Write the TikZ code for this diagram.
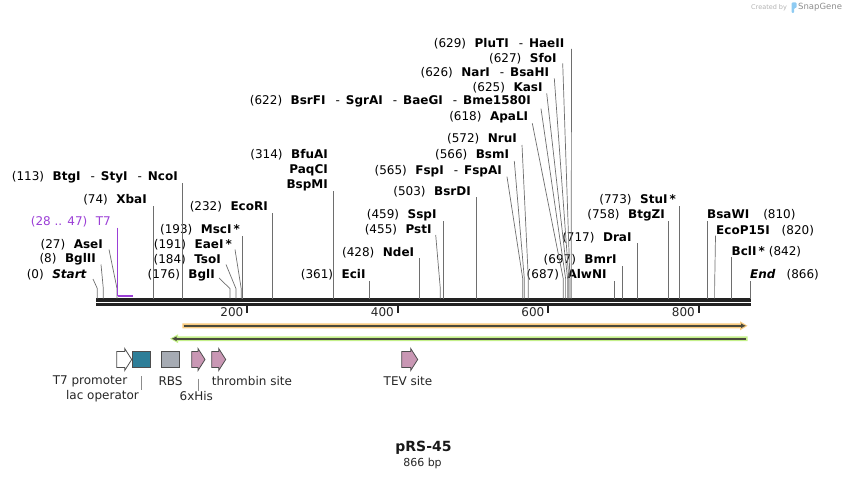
\documentclass[tikz,border=0pt]{standalone}
\usepackage{fontspec}
\setmainfont{DejaVu Sans}
\usepackage{tikz}
\usetikzlibrary{arrows.meta}
\definecolor{enzgray}{HTML}{6E6E6E}
\definecolor{barblack}{HTML}{222222}
\definecolor{t7purple}{HTML}{9B3FD6}
\definecolor{cdsorange}{HTML}{F9CB80}
\definecolor{cdsgreen}{HTML}{C4F08A}
\definecolor{cdsline}{HTML}{4A4A3C}
\definecolor{lacteal}{HTML}{2E7E98}
\definecolor{rbsgray}{HTML}{A6ABB3}
\definecolor{sitepink}{HTML}{C997B4}
\definecolor{outline}{HTML}{4D4D4D}
\definecolor{logoblue}{HTML}{8FCBF2}
\tikzstyle{enz}=[inner sep=0pt, font={\fontsize{12}{14}\selectfont}, text=black]
\tikzstyle{cut}=[draw=enzgray, line width=0.7pt]
\tikzstyle{feat}=[draw=outline, line width=0.8pt]
\tikzstyle{flabel}=[inner sep=0pt, font={\fontsize{12}{14}\selectfont}, text=black!85]
\tikzstyle{leader}=[draw=black!45, line width=0.7pt]
\tikzstyle{tick}=[draw=barblack, line width=2pt]
\newcommand{\ngap}{\hspace{8.5pt}}
\newcommand{\dsh}{\hspace{10pt}-\hspace{6pt}}

\begin{document}
\begin{tikzpicture}[x=1pt, y=-1pt]

    \useasboundingbox (0,0) rectangle (848,478);

    % sequence bar and ruler
    \draw[barblack, line width=3.4pt] (96,300) -- (750.5,300);
    \draw[barblack, line width=3pt] (96,304.5) -- (750.5,304.5);
    \draw[tick] (247,305.5) -- (247,312.5);
    \draw[tick] (397.5,305.5) -- (397.5,312.5);
    \draw[tick] (548,305.5) -- (548,312.5);
    \draw[tick] (698.5,305.5) -- (698.5,312.5);
    \node[flabel, anchor=east] (r200) at (243.5,312.5) {200};
    \node[flabel, anchor=east] (r400) at (394,312.5) {400};
    \node[flabel, anchor=east] (r600) at (544.5,312.5) {600};
    \node[flabel, anchor=east] (r800) at (695,312.5) {800};

    % sites on the bar
    \coordinate (s0) at (97.3,298.5);
    \coordinate (s8) at (103.3,298.5);
    \coordinate (s27) at (117,298.5);
    \coordinate (s28) at (117.5,296);
    \coordinate (s47) at (132.5,296);
    \coordinate (s74) at (153.1,298.5);
    \coordinate (s113) at (182.4,298.5);
    \coordinate (s176) at (229.9,298.5);
    \coordinate (s184) at (235.9,298.5);
    \coordinate (s191) at (241.2,298.5);
    \coordinate (s193) at (242.7,298.5);
    \coordinate (s232) at (272.1,298.5);
    \coordinate (s314) at (333.6,298.5);
    \coordinate (s361) at (369.1,298.5);
    \coordinate (s428) at (419.6,298.5);
    \coordinate (s455) at (440.3,298.5);
    \coordinate (s459) at (443.2,298.5);
    \coordinate (s503) at (476.2,298.5);
    \coordinate (s565) at (522.7,298.5);
    \coordinate (s566) at (524.3,298.5);
    \coordinate (s572) at (528.3,298.5);
    \coordinate (s618) at (563.2,298.5);
    \coordinate (s622) at (565.6,298.5);
    \coordinate (s625) at (567.6,298.5);
    \coordinate (s626) at (568.8,298.5);
    \coordinate (s627) at (569.9,298.5);
    \coordinate (s629) at (571.2,298.5);
    \coordinate (s687) at (614.6,298.5);
    \coordinate (s697) at (622.4,298.5);
    \coordinate (s717) at (637.4,298.5);
    \coordinate (s758) at (668.4,298.5);
    \coordinate (s773) at (679.6,298.5);
    \coordinate (s810) at (707.4,298.5);
    \coordinate (s820) at (714.6,298.5);
    \coordinate (s842) at (731.7,298.5);
    \coordinate (s866) at (750.2,298.5);

    % enzyme labels, left part
    \node[enz, anchor=east] (start) at (87,275) {(0)\ngap\textbf{\textit{Start}}};
    \node[enz, anchor=east] (bglII) at (96,259.5) {(8)\ngap\textbf{BglII}};
    \node[enz, anchor=east] (aseI) at (103,244.5) {(27)\ngap\textbf{AseI}};
    \node[enz, anchor=east, text=t7purple] (t7) at (111,222) {(28 .. 47)\ngap T7};
    \node[enz, anchor=east] (xbaI) at (147,200) {(74)\ngap\textbf{XbaI}};
    \node[enz, anchor=east] (btgI) at (178,177) {(113)\ngap\textbf{BtgI}\dsh\textbf{StyI}\dsh\textbf{NcoI}};
    \node[enz, anchor=east] (bglI) at (215,275) {(176)\ngap\textbf{BglI}};
    \node[enz, anchor=east] (tsoI) at (221,259.5) {(184)\ngap\textbf{TsoI}};
    \node[enz, anchor=east] (eaeI) at (232,244.5) {(191)\ngap\textbf{EaeI\,*}};
    \node[enz, anchor=east] (mscI) at (240,230) {(193)\ngap\textbf{MscI\,*}};
    \node[enz, anchor=east] (ecoRI) at (268,207) {(232)\ngap\textbf{EcoRI}};

    % enzyme labels, middle part
    \node[enz, anchor=east] (bfuAI) at (328,155) {(314)\ngap\textbf{BfuAI}};
    \node[enz, anchor=east] (paqCI) at (328,170.5) {\textbf{PaqCI}};
    \node[enz, anchor=east] (bspMI) at (328,185.5) {\textbf{BspMI}};
    \node[enz, anchor=east] (eciI) at (365.7,275) {(361)\ngap\textbf{EciI}};
    \node[enz, anchor=east] (ndeI) at (414.3,252.3) {(428)\ngap\textbf{NdeI}};
    \node[enz, anchor=east] (pstI) at (431.7,230) {(455)\ngap\textbf{PstI}};
    \node[enz, anchor=east] (sspI) at (436.7,215) {(459)\ngap\textbf{SspI}};
    \node[enz, anchor=east] (bsrDI) at (471,191.7) {(503)\ngap\textbf{BsrDI}};
    \node[enz, anchor=east] (fspI) at (502,170.7) {(565)\ngap\textbf{FspI}\dsh\textbf{FspAI}};
    \node[enz, anchor=east] (bsmI) at (509.3,155) {(566)\ngap\textbf{BsmI}};
    \node[enz, anchor=east] (nruI) at (517,139) {(572)\ngap\textbf{NruI}};
    \node[enz, anchor=east] (apaLI) at (528.3,117.3) {(618)\ngap\textbf{ApaLI}};
    \node[enz, anchor=east] (bsrFI) at (531,101.7) {(622)\ngap\textbf{BsrFI}\dsh\textbf{SgrAI}\dsh\textbf{BaeGI}\dsh\textbf{Bme1580I}};
    \node[enz, anchor=east] (kasI) at (542.7,87.3) {(625)\ngap\textbf{KasI}};
    \node[enz, anchor=east] (narI) at (549.3,72.3) {(626)\ngap\textbf{NarI}\dsh\textbf{BsaHI}};
    \node[enz, anchor=east] (sfoI) at (556.7,58.3) {(627)\ngap\textbf{SfoI}};
    \node[enz, anchor=east] (pluTI) at (564.5,44) {(629)\ngap\textbf{PluTI}\dsh\textbf{HaeII}};

    % enzyme labels, right part
    \node[enz, anchor=east] (alwNI) at (606.7,275) {(687)\ngap\textbf{AlwNI}};
    \node[enz, anchor=east] (bmrI) at (616.7,260) {(697)\ngap\textbf{BmrI}};
    \node[enz, anchor=east] (draI) at (631.7,237.3) {(717)\ngap\textbf{DraI}};
    \node[enz, anchor=east] (btgZI) at (665,215) {(758)\ngap\textbf{BtgZI}};
    \node[enz, anchor=east] (stuI) at (676,200) {(773)\ngap\textbf{StuI\,*}};
    \node[enz, anchor=west] (bsaWI) at (707,215) {\textbf{BsaWI}\hspace{14pt}(810)};
    \node[enz, anchor=west] (ecoP15I) at (716,230.7) {\textbf{EcoP15I}\hspace{12pt}(820)};
    \node[enz, anchor=west] (bclI) at (731.5,251.7) {\textbf{BclI\,*}\hspace{4pt}(842)};
    \node[enz, anchor=west] (end) at (750,275) {\textbf{\textit{End}}\hspace{11pt}(866)};

    % cut lines
    \draw[cut] (s0) -- ++(0,-10) -- ([shift={(6,4)}]start.east);
    \draw[cut] (s8) -- ++(0,-10) -- ([shift={(5,5)}]bglII.east);
    \draw[cut] (s27) -- ++(0,-10) -- ([shift={(6,5)}]aseI.east);
    \draw[t7purple, line width=0.8pt] (s28 |- t7.south) -- (s28);
    \draw[t7purple, line width=2pt] (s28) -- (s47);
    \draw[cut] (s74) -- (s74 |- xbaI.south);
    \draw[cut] (s113) -- (s113 |- btgI.south);
    \draw[cut] (s176) -- ++(0,-10) -- ([shift={(4,3)}]bglI.east);
    \draw[cut] (s184) -- ++(0,-10) -- ([shift={(5,5)}]tsoI.east);
    \draw[cut] (s191) -- ++(0,-10) -- ([shift={(3,5)}]eaeI.east);
    \draw[cut] (s193) -- (s193 |- mscI.south);
    \draw[cut] (s232) -- (s232 |- ecoRI.south);
    \draw[cut] (s314) -- (s314 |- bspMI.south);
    \draw[cut] (s361) -- (s361 |- eciI.south);
    \draw[cut] (s428) -- (s428 |- ndeI.south);
    \draw[cut] (s455) -- ++(0,-10) -- ([shift={(4,5)}]pstI.east);
    \draw[cut] (s459) -- (s459 |- sspI.south);
    \draw[cut] (s503) -- (s503 |- bsrDI.south);
    \draw[cut] (s565) -- ++(0,-20) -- ([shift={(5,6)}]fspI.east);
    \draw[cut] (s566) -- ++(0,-20) -- ([shift={(5,6)}]bsmI.east);
    \draw[cut] (s572) -- ++(0,-20) -- ([shift={(5,6)}]nruI.east);
    \draw[cut] (s618) -- ++(0,-20) -- ([shift={(4,6)}]apaLI.east);
    \draw[cut] (s622) -- ++(0,-20) -- ([shift={(10,7)}]bsrFI.east);
    \draw[cut] (s625) -- ++(0,-20) -- ([shift={(4,6)}]kasI.east);
    \draw[cut] (s626) -- ++(0,-20) -- ([shift={(5,6)}]narI.east);
    \draw[cut] (s627) -- ++(0,-20) -- ([shift={(6,5)}]sfoI.east);
    \draw[cut] (s629) -- ++(0,-20) -- ([shift={(7,5)}]pluTI.east);
    \draw[cut] (s687) -- (s687 |- alwNI.south);
    \draw[cut] (s697) -- (s697 |- bmrI.south);
    \draw[cut] (s717) -- (s717 |- draI.south);
    \draw[cut] (s758) -- (s758 |- btgZI.south);
    \draw[cut] (s773) -- (s773 |- stuI.south);
    \draw[cut] (s810) -- (s810 |- bsaWI.south);
    \draw[cut] (s820) -- ++(0,-10) -- ([shift={(-0.5,5)}]ecoP15I.west);
    \draw[cut] (s842) -- (s842 |- bclI.south);
    \draw[cut] (s866) -- (s866 |- end.south);

    % open reading frames
    \fill[cdsorange] (182.3,323.3) -- (740,323.3) -- (740,321.3) -- (747.5,325.8) -- (740,330.3) -- (740,328.3) -- (182.3,328.3) -- cycle;
    \draw[cdsline, line width=1.8pt, -{Latex[length=5pt,width=5pt]}] (183.5,325.8) -- (746,325.8);
    \fill[cdsgreen] (747.5,336.3) -- (178,336.3) -- (178,334.3) -- (170,338.7) -- (178,343.1) -- (178,341.1) -- (747.5,341.1) -- cycle;
    \draw[cdsline, line width=1.8pt, -{Latex[length=5pt,width=5pt]}] (745.5,338.7) -- (171.5,338.7);

    % features
    \draw[feat, fill=white] (116.7,351.5) -- (124.7,351.5) -- (124.7,348.5) -- (131.7,359.5) -- (124.7,370.5) -- (124.7,367.5) -- (116.7,367.5) -- cycle;
    \draw[feat, fill=lacteal] (132.3,351.5) rectangle (150.7,367.5);
    \draw[feat, fill=rbsgray] (161,351.5) rectangle (179,367.5);
    \draw[feat, fill=sitepink] (191.7,351.5) -- (198,351.5) -- (198,348.5) -- (205,359.5) -- (198,370.5) -- (198,367.5) -- (191.7,367.5) -- cycle;
    \draw[feat, fill=sitepink] (211.7,351.5) -- (218.7,351.5) -- (218.7,348.5) -- (225.7,359.5) -- (218.7,370.5) -- (218.7,367.5) -- (211.7,367.5) -- cycle;
    \draw[feat, fill=sitepink] (401.7,351.5) -- (410.7,351.5) -- (410.7,348.5) -- (417.7,359.5) -- (410.7,370.5) -- (410.7,367.5) -- (401.7,367.5) -- cycle;

    \node[flabel] (t7prom) at (90,381) {T7 promoter};
    \node[flabel] (lacop) at (102.5,396) {lac operator};
    \node[flabel] (rbs) at (170.5,381) {RBS};
    \node[flabel] (his) at (196.3,396) {6xHis};
    \node[flabel, anchor=west] (thrombin) at (211.7,381) {thrombin site};
    \node[flabel] (tev) at (408,381) {TEV site};
    \coordinate (lac-top) at (141.5,376);
    \coordinate (his-top) at (198.3,378.5);
    \draw[leader] (lac-top) -- (lac-top |- lacop.north);
    \draw[leader] (his-top) -- (his-top |- his.north);

    % title
    \node[font={\bfseries\fontsize{14}{16}\selectfont}, text=black!90] (title) at (423.5,447.3) {pRS-45};
    \node[font={\fontsize{11}{13}\selectfont}, text=black!85] (size) at (422.5,463.3) {866 bp};

    % watermark
    \node[font={\fontsize{6.5}{8}\selectfont}, text=black!30, anchor=west, inner sep=0pt] (created) at (751,7.5) {Created by};
    \fill[logoblue, rounded corners=1pt] (791.5,13) -- (791.5,2.5) -- (796.5,2.5) -- (796.5,8) -- (794,8) -- (794,13) -- cycle;
    \node[font={\fontsize{8.5}{10}\selectfont}, text=black!45, anchor=west, inner sep=0pt] (snapgene) at (798,7.5) {SnapGene};

\end{tikzpicture}
\end{document}
